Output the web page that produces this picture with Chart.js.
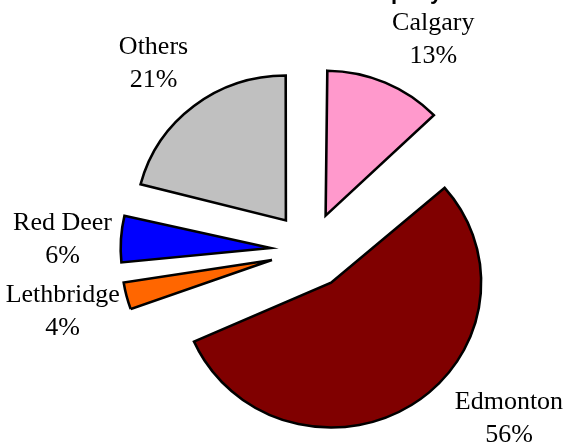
<!DOCTYPE html>
<html>
<head>
<meta charset="utf-8">
<script src="https://cdn.jsdelivr.net/npm/chart.js@4.4.1/dist/chart.umd.min.js"></script>
<style>
    html, body { margin: 0; padding: 0; background: #fff; }
    canvas { display: block; }
</style>
</head>
<body>
<canvas id="cityChart" width="568" height="444"></canvas>
<script>
const cities = ['Calgary', 'Edmonton', 'Lethbridge', 'Red Deer', 'Others'];
const shares = [13, 56, 4, 6, 21];
const sliceColors = ['#FF99CC', '#800000', '#FF6600', '#0000FF', '#C0C0C0'];

const EXPLODE = 38;     // px each slice is pulled away from the centre
const RADIUS = 145;
const STRETCH_X = 1.035; // pie is drawn a touch wider than tall

const total = shares.reduce((a, b) => a + b, 0);

// an arc with `offset` is moved out by offset/4, but its radius also grows by
// offset/4 * (1 - sin(min(PI, sweep))); this is that growth for slice i
function radiusGrowth(i) {
    const sweep = 2 * Math.PI * shares[i] / total;
    return EXPLODE * (1 - Math.sin(Math.min(Math.PI, sweep)));
}

// shrink each arc back so every exploded slice keeps the same radius
const evenRadius = {
    id: 'evenRadius',
    beforeDatasetsDraw(chart) {
        chart.getDatasetMeta(0).data.forEach((arc, i) => {
            arc.outerRadius = RADIUS - radiusGrowth(i);
        });
    }
};

// horizontal stretch around the pie centre while the slices are drawn
const widen = {
    id: 'widen',
    beforeDatasetsDraw(chart) {
        const ctx = chart.ctx;
        const cx = (chart.chartArea.left + chart.chartArea.right) / 2;
        ctx.save();
        ctx.translate(cx, 0);
        ctx.scale(STRETCH_X, 1);
        ctx.translate(-cx, 0);
    },
    afterDatasetsDraw(chart) {
        chart.ctx.restore();
    }
};

// two-line "name / pct" labels sitting just outside each pulled-out slice
const sliceLabels = {
    id: 'sliceLabels',
    afterDatasetsDraw(chart, args, opts) {
        const { ctx, width, height } = chart;
        const arcs = chart.getDatasetMeta(0).data;
        const h = opts.lineHeight + opts.capHeight;
        ctx.save();
        ctx.font = opts.font;
        ctx.fillStyle = '#000';
        ctx.textAlign = 'center';
        ctx.textBaseline = 'alphabetic';
        arcs.forEach((arc, i) => {
            const lines = [cities[i], shares[i] + '%'];
            const w = Math.max(...lines.map(t => ctx.measureText(t).width));
            const mid = (arc.startAngle + arc.endAngle) / 2;
            const dx = Math.cos(mid), dy = Math.sin(mid);
            const reach = EXPLODE + RADIUS + opts.gap + Math.abs(dx) * w / 2 + Math.abs(dy) * h / 2;
            const [nx, ny] = opts.nudge[i] || [0, 0];
            let cx = arc.x + dx * reach + nx;
            let cy = arc.y + dy * reach + ny;
            cx = Math.min(Math.max(cx, w / 2 + 2), width - w / 2 - 2);
            cy = Math.min(Math.max(cy, h / 2 + 2), height - h / 2 - 2);
            const first = cy - h / 2 + opts.capHeight;
            lines.forEach((t, k) => ctx.fillText(t, cx, first + k * opts.lineHeight));
        });
        ctx.restore();
    }
};

// heading runs off the top edge, only its descenders show
const topHeading = {
    id: 'topHeading',
    afterDraw(chart, args, opts) {
        const ctx = chart.ctx;
        ctx.save();
        ctx.font = opts.font;
        ctx.fillStyle = '#000';
        ctx.textAlign = 'left';
        ctx.textBaseline = 'alphabetic';
        ctx.fillText(opts.text, opts.x, opts.y);
        ctx.restore();
    }
};

new Chart(document.getElementById('cityChart'), {
    type: 'pie',
    data: {
        labels: cities,
        datasets: [{
            data: shares,
            backgroundColor: sliceColors,
            borderColor: '#000',
            borderWidth: 2.5,
            borderJoinStyle: 'miter',
            offset: EXPLODE * 4,
            hoverOffset: 0
        }]
    },
    options: {
        responsive: false,
        animation: false,
        radius: RADIUS,
        layout: { padding: { left: 52, right: 0, top: 57, bottom: 0 } },
        events: [],
        plugins: {
            legend: { display: false },
            tooltip: { enabled: false },
            sliceLabels: {
                font: '26px "Liberation Serif", "Times New Roman", serif',
                lineHeight: 33,
                capHeight: 17,
                gap: 15,
                nudge: [[29, 5], [66, 0], [4, -5], [1, 3], [-10, 0]]
            },
            topHeading: {
                text: 'Company',
                font: 'bold 22px "Liberation Sans", Arial, sans-serif',
                x: 342,
                y: -1
            }
        }
    },
    plugins: [evenRadius, widen, sliceLabels, topHeading]
});
</script>
</body>
</html>
